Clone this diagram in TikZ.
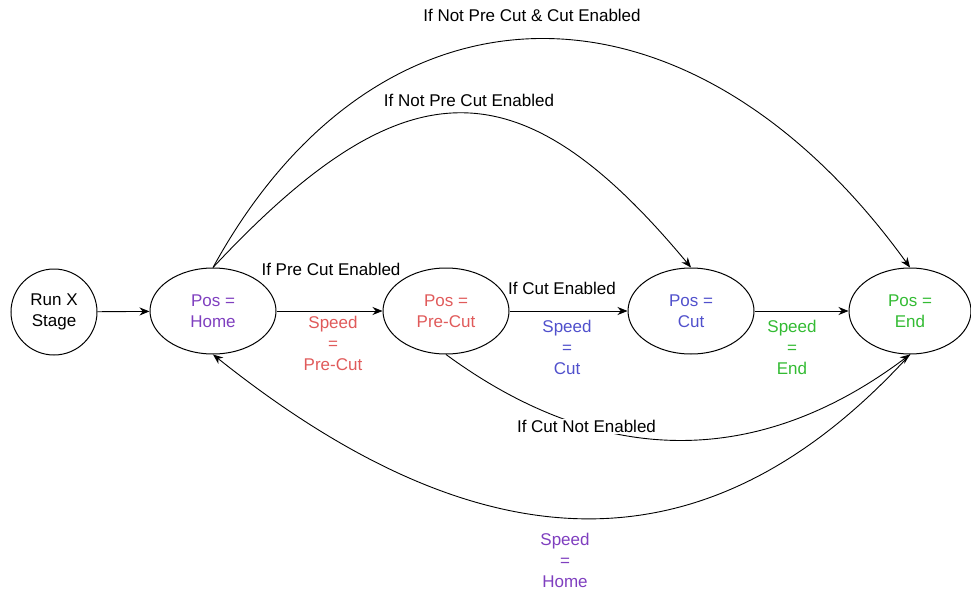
\documentclass[tikz,border=0pt]{standalone}
\usepackage{fontspec}
\setmainfont{Liberation Sans}
\usetikzlibrary{arrows.meta,shapes.geometric}
\definecolor{homePurple}{HTML}{7F3FBF}
\definecolor{precutRed}{HTML}{E05A5A}
\definecolor{cutBlue}{HTML}{5050CC}
\definecolor{endGreen}{HTML}{33BB33}

\begin{document}
\begin{tikzpicture}[x=1pt,y=1pt,>={Stealth[length=10pt,width=8pt]},
  every node/.style={font=\fontsize{17}{21}\selectfont,align=center},
  estado/.style={draw,ellipse,line width=1pt,minimum width=126pt,minimum height=86pt,inner sep=0pt},
  flecha/.style={->,line width=0.9pt}]
  \useasboundingbox (0,0) rectangle (971,-591);
  % states
  \node[draw,circle,line width=1pt,minimum size=86pt,inner sep=0pt] (run) at (54,-312) {Run X\\Stage};
  \node[estado,text=homePurple] (home) at (213,-311) {Pos =\\Home};
  \node[estado,text=precutRed] (precut) at (446,-311) {Pos =\\Pre-Cut};
  \node[estado,text=cutBlue] (cut) at (691,-311) {Pos =\\Cut};
  \node[estado,text=endGreen,minimum width=122pt] (endst) at (910,-311) {Pos =\\End};
  % straight transitions
  \draw[flecha] (run) -- (home);
  \draw[flecha] (home) -- (precut);
  \draw[flecha] (precut) -- (cut);
  \draw[flecha] (cut) -- (endst);
  % curved transitions
  \draw[flecha] (home.north) .. controls (405,-62) and (520,-62) .. (cut.north);
  \draw[flecha] (home.north) .. controls (380,37) and (690,37) .. (endst.north);
  \draw[flecha] (precut.south) .. controls (602,-469) and (759,-468) .. (endst.south)
    node[pos=0.3,fill=white,inner sep=1pt] (lblnocut) {If Cut Not Enabled};
  \draw[flecha] (endst.south) .. controls (711,-573) and (487,-573) .. (home.south);
  % labels
  \node (lblboth) at (532,-15) {If Not Pre Cut \& Cut Enabled};
  \node (lblnopre) at (469,-100) {If Not Pre Cut Enabled};
  \node (lblpre) at (331,-269) {If Pre Cut Enabled};
  \node (lblcut) at (562,-288) {If Cut Enabled};
  \node[text=precutRed] (spdprecut) at (333,-343) {Speed\\=\\Pre-Cut};
  \node[text=cutBlue] (spdcut) at (567,-347) {Speed\\=\\Cut};
  \node[text=endGreen] (spdend) at (792,-347) {Speed\\=\\End};
  \node[text=homePurple] (spdhome) at (565,-560) {Speed\\=\\Home};
\end{tikzpicture}
\end{document}
